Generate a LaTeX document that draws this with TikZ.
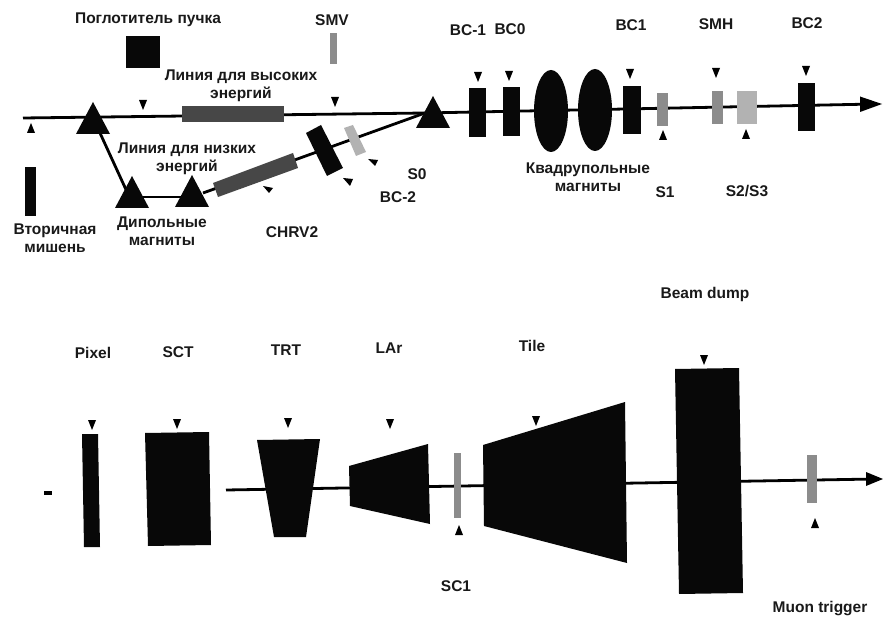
\documentclass[tikz,border=0pt]{standalone}
\usepackage{fontspec}
\setmainfont{Liberation Sans}
\begin{document}
\begin{tikzpicture}[x=1pt,y=-1pt,
  lab/.style={font=\bfseries\fontsize{15.5}{18}\selectfont,text=black!90,inner sep=0pt,align=center},
  beam/.style={draw=black,line width=2.8pt},
  blk/.style={fill=black!97,draw=none},
  halft/.style={fill=black!45,draw=none},
  darkh/.style={fill=black!72,draw=none},
  lighth/.style={fill=black!30,draw=none},
  tick/.style={fill=black,draw=none}]
\useasboundingbox (0,0) rectangle (883,617);
\fill[white] (0,0) rectangle (883,617);
\newcommand{\tkd}[2]{\fill[tick] (#1-4,#2-5) -- (#1+4,#2-5) -- (#1,#2+5) -- cycle;}
\newcommand{\tku}[2]{\fill[tick] (#1-4,#2+5) -- (#1+4,#2+5) -- (#1,#2-5) -- cycle;}
\newcommand{\dipole}[2]{\fill[blk] (#1,#2) -- (#1-17,#2+32) -- (#1+17,#2+32) -- cycle;}
% beam-line coordinates
\coordinate (start) at (23,118);
\coordinate (d1b) at (100,133);
\coordinate (d2b) at (128,194);
\coordinate (d2c) at (132,197);
\coordinate (d3c) at (192,197);
\coordinate (d3d) at (203,193);
\coordinate (d4) at (425,113);
\coordinate (end) at (875,104);
\coordinate (start2) at (226,490);
\coordinate (end2) at (875,479);
% connectors
\draw[beam] (start) -- (d4);
\draw[beam] (d4) -- (end);
\draw[beam] (d1b) -- (d2b);
\draw[beam] (d2c) -- (d3c);
\draw[beam] (d3d) -- (d4);
\draw[beam] (start2) -- (end2);
\fill[black] (882,104) -- (860,96.5) -- (860,112) -- cycle;
\fill[black] (883,479) -- (866,472) -- (866,486) -- cycle;
% dipoles
\dipole{93}{102}
\dipole{132}{176}
\dipole{192}{175}
\dipole{433}{96}
% upper elements
\fill[blk] (126,36) rectangle (160,68);
\fill[halft] (330,33) rectangle (337,64);
\fill[blk] (25,167) rectangle (36,216);
\fill[darkh] (182,106) rectangle (284,122);
\fill[darkh] (213,183) -- (293,153) -- (298,168) -- (218,197) -- cycle;
\fill[blk] (306,133) -- (321,125) -- (343,168) -- (327,176) -- cycle;
\fill[lighth] (344,128) -- (353,125) -- (366,152) -- (356,156) -- cycle;
\fill[blk] (469,88) rectangle (486,137);
\fill[blk] (503,87) rectangle (520,136);
\fill[blk] (551,111) ellipse [x radius=17,y radius=41];
\fill[blk] (595,110) ellipse [x radius=17,y radius=41];
\fill[blk] (623,86) rectangle (641,134);
\fill[halft] (657,93) rectangle (668,126);
\fill[halft] (712,91) rectangle (723,124);
\fill[lighth] (737,91) rectangle (757,124);
\fill[blk] (798,83) rectangle (815,131);
% lower elements
\fill[black] (44,491) rectangle (52,495);
\fill[blk] (82,434) -- (98,434) -- (100,547) -- (84,547) -- cycle;
\fill[blk] (145,433) -- (209,432) -- (211,545) -- (148,546) -- cycle;
\fill[blk] (257,440) -- (320,439) -- (306,537) -- (274,537) -- cycle;
\fill[blk] (349,466) -- (428,444) -- (430,524) -- (350,506) -- cycle;
\fill[halft] (454,453) rectangle (461,518);
\fill[blk] (483,445) -- (625,402) -- (627,563) -- (484,526) -- cycle;
\fill[blk] (675,369) -- (739,368) -- (743,593) -- (679,594) -- cycle;
\fill[halft] (807,455) rectangle (817,503);
% small position markers
\tkd{143}{105}\tku{31}{128}\tkd{335}{102}
\tkd{478}{77}\tkd{509}{76}\tkd{630}{74}\tku{663}{135}\tkd{716}{73}\tku{746}{134}\tkd{806}{71}
\tkd{92}{425}\tkd{177}{424}\tkd{288}{423}\tkd{390}{424}\tkd{536}{421}\tkd{704}{360}\tku{459}{530}\tku{815}{523}
\fill[tick] (263,186) -- (273,188) -- (269,193) -- cycle;
\fill[tick] (343,178) -- (353,179) -- (350,186) -- cycle;
\fill[tick] (368,159) -- (378,160) -- (375,166) -- cycle;
% labels
\node[lab] (a1) at (148,20) {Поглотитель пучка};
\node[lab] (a2) at (332,20) {SMV};
\node[lab] (a3) at (241,85.5) {Линия для высоких\\энергий};
\node[lab] (a4) at (187,158.5) {Линия для низких\\энергий};
\node[lab] (a5) at (162,231) {Дипольные\\магниты};
\node[lab] (a6) at (55,238.5) {Вторичная\\мишень};
\node[lab] (a7) at (292,232) {CHRV2};
\node[lab] (a8) at (417,174) {S0};
\node[lab] (a9) at (398,197) {BC-2};
\node[lab] (b1) at (468,30) {BC-1};
\node[lab] (b2) at (510,29) {BC0};
\node[lab] (b3) at (631,25) {BC1};
\node[lab] (b4) at (716,24) {SMH};
\node[lab] (b5) at (807,23) {BC2};
\node[lab] (b6) at (588,177.5) {Квадрупольные\\магниты};
\node[lab] (b7) at (665,192) {S1};
\node[lab] (b8) at (747,191) {S2/S3};
\node[lab] (c1) at (93,353) {Pixel};
\node[lab] (c2) at (178,352) {SCT};
\node[lab] (c3) at (286,350) {TRT};
\node[lab] (c4) at (389,348) {LAr};
\node[lab] (c5) at (532,346) {Tile};
\node[lab] (c6) at (705,294) {Beam dump};
\node[lab] (c7) at (456,586) {SC1};
\node[lab] (c8) at (820,609) {Muon trigger};
\end{tikzpicture}
\end{document}
